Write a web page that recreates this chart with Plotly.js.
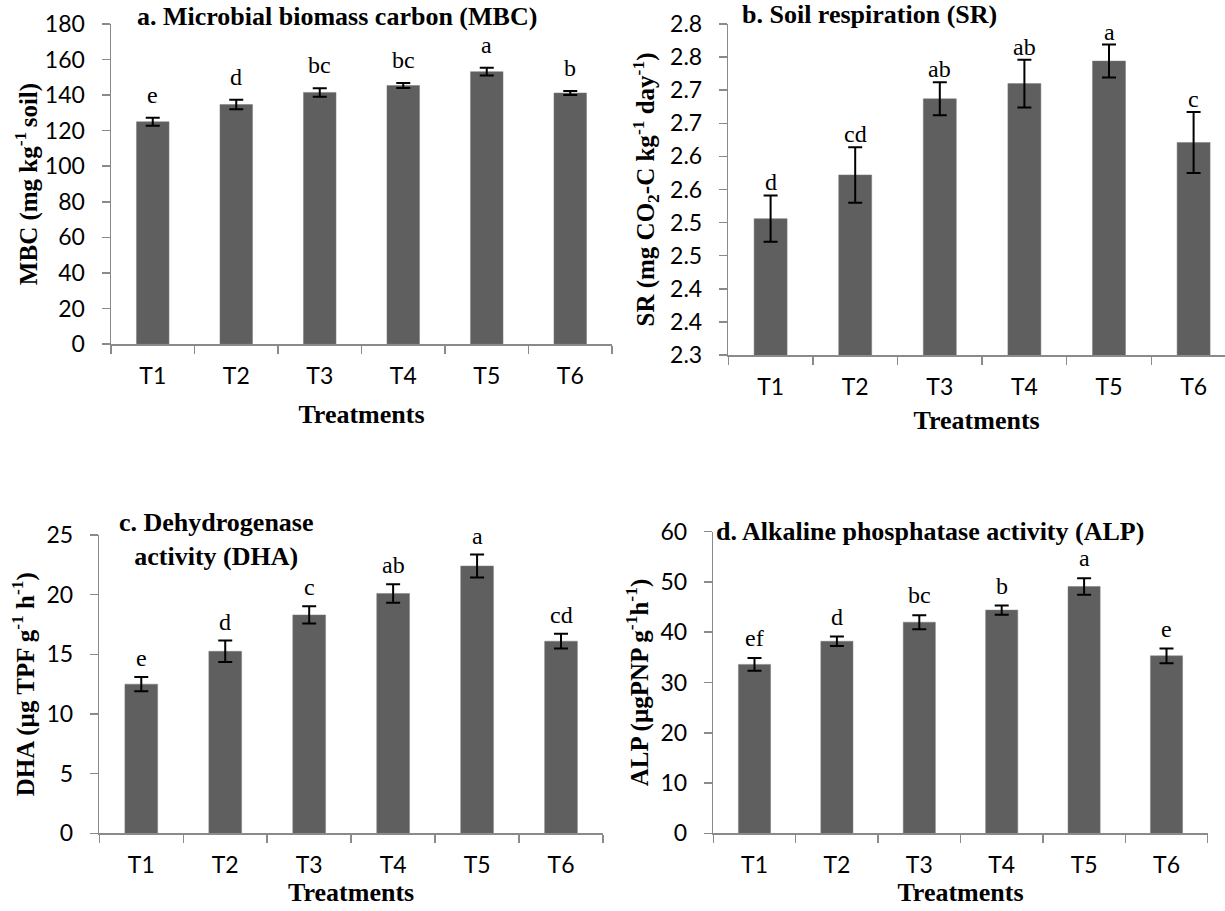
<!DOCTYPE html>
<html>
<head>
<meta charset="utf-8">
<script src="https://cdn.plot.ly/plotly-3.0.1.min.js"></script>
<style>html,body{margin:0;padding:0;background:#fff;}#chart{width:1225px;height:911px;}</style>
</head>
<body>
<div id="chart"></div>
<script>
// ---- data ----
const treatments = ['T1', 'T2', 'T3', 'T4', 'T5', 'T6'];

const mbcValues = [125.0, 134.7, 141.5, 145.4, 153.2, 141.2];
const mbcErrors = [2.2, 2.7, 2.4, 1.4, 2.2, 1.1];
const mbcLetters = ['e', 'd', 'bc', 'bc', 'a', 'b'];

const srValues = [2.506, 2.572, 2.687, 2.710, 2.744, 2.621];
const srErrors = [0.035, 0.042, 0.025, 0.036, 0.025, 0.046];
const srLetters = ['d', 'cd', 'ab', 'ab', 'a', 'c'];
const srTickValues = [2.30, 2.35, 2.40, 2.45, 2.50, 2.55, 2.60, 2.65, 2.70, 2.75, 2.80];
const srTickLabels = ['2.3', '2.4', '2.4', '2.5', '2.5', '2.6', '2.6', '2.7', '2.7', '2.8', '2.8'];

const dhaValues = [12.5, 15.25, 18.3, 20.1, 22.4, 16.1];
const dhaErrors = [0.6, 0.9, 0.72, 0.77, 0.96, 0.62];
const dhaLetters = ['e', 'd', 'c', 'ab', 'a', 'cd'];

const alpValues = [33.6, 38.2, 42.0, 44.4, 49.1, 35.3];
const alpErrors = [1.25, 0.95, 1.4, 0.9, 1.65, 1.45];
const alpLetters = ['ef', 'd', 'bc', 'b', 'a', 'e'];

const panelTitles = ['a. Microbial biomass carbon (MBC)', 'b. Soil respiration (SR)',
  'c. Dehydrogenase<br>activity (DHA)', 'd. Alkaline phosphatase activity (ALP)'];
const yTitles = ['MBC (mg kg<sup>-1 </sup>soil)', 'SR (mg CO<sub>2</sub>-C kg<sup>-1</sup> day<sup>-1</sup>)',
  'DHA (µg TPF g<sup>-1</sup> h<sup>-1</sup>)', 'ALP (µgPNP g<sup>-1</sup>h<sup>-1</sup>)'];
const xTitle = 'Treatments';

// ---- styles ----
const BAR = '#5f5f5f';
const AXIS = '#8a8a8a';
const SANS = 'Lato, "Open Sans", sans-serif';
const SERIF = '"Liberation Serif", "Times New Roman", serif';

function barTrace(vals, errs, xa, ya) {
  return {
    type: 'bar', x: treatments, y: vals, xaxis: xa, yaxis: ya,
    marker: {color: BAR, line: {color: '#7a7a7a', width: 0.5}},
    error_y: {type: 'data', array: errs, visible: true, color: '#000', thickness: 2, width: 7},
    hoverinfo: 'skip', showlegend: false
  };
}

const data = [
  barTrace(mbcValues, mbcErrors, 'x', 'y'),
  barTrace(srValues, srErrors, 'x2', 'y2'),
  barTrace(dhaValues, dhaErrors, 'x3', 'y3'),
  barTrace(alpValues, alpErrors, 'x4', 'y4')
];

function xAxis(domain, range, anchor, standoff) {
  return {
    domain: domain, range: range, anchor: anchor, type: 'category',
    showline: true, linecolor: AXIS, linewidth: 1.5,
    ticks: 'outside', tickson: 'boundaries', ticklen: 8, tickcolor: AXIS, tickwidth: 1.5,
    tickfont: {family: SANS, size: 23, color: '#000'}, ticklabelstandoff: 11,
    showgrid: false, zeroline: false, fixedrange: true,
    title: {text: xTitle, font: {family: SERIF, size: 26, color: '#000', weight: 'bold'}, standoff: standoff}
  };
}
function yAxis(domain, range, anchor, title, standoff, extra) {
  return Object.assign({
    domain: domain, range: range, anchor: anchor,
    showline: true, linecolor: AXIS, linewidth: 1.5,
    ticks: 'outside', ticklen: 8, tickcolor: AXIS, tickwidth: 1.5,
    tickfont: {family: SANS, size: 23, color: '#000'}, ticklabelstandoff: 12,
    showgrid: false, zeroline: false, fixedrange: true,
    title: {text: title, font: {family: SERIF, size: 25, color: '#000', weight: 'bold'}, standoff: standoff}
  }, extra || {});
}

const W = 1225, H = 911;
const layout = {
  width: W, height: H,
  margin: {l: 0, r: 0, t: 0, b: 0},
  paper_bgcolor: '#fff', plot_bgcolor: '#fff',
  bargap: 0.61,
  showlegend: false,
  xaxis: xAxis([111 / W, 612 / W], [-0.5, 5.5], 'y', 16),
  yaxis: yAxis([1 - 344 / H, 1 - 24 / H], [0, 180], 'x', yTitles[0], 0, {dtick: 20}),
  xaxis2: xAxis([728.3 / W, 1], [-0.5, (W - 728.3) / 84.6 - 0.5], 'y2', 11),
  yaxis2: yAxis([1 - 355 / H, 1 - 24 / H], [2.3, 2.8], 'x2', yTitles[1], 8,
    {tickmode: 'array', tickvals: srTickValues, ticktext: srTickLabels}),
  xaxis3: xAxis([99.3 / W, 603 / W], [-0.5, 5.5], 'y3', 4),
  yaxis3: yAxis([1 - 833.3 / H, 1 - 535 / H], [0, 25], 'x3', yTitles[2], 5, {dtick: 5}),
  xaxis4: xAxis([713.3 / W, 1207.7 / W], [-0.5, 5.5], 'y4', 4),
  yaxis4: yAxis([1 - 833.3 / H, 1 - 531.7 / H], [0, 60], 'x4', yTitles[3], 5, {dtick: 10}),
  annotations: []
};

function letterAnnotations(vals, errs, letters, xa, ya, shift) {
  return treatments.map((t, i) => ({
    x: t, y: vals[i] + errs[i], xref: xa, yref: ya, text: letters[i],
    showarrow: false, yanchor: 'bottom', xanchor: 'center', yshift: shift,
    font: {family: SERIF, size: 24, color: '#000'}
  }));
}
layout.annotations.push(...letterAnnotations(mbcValues, mbcErrors, mbcLetters, 'x', 'y', 8));
layout.annotations.push(...letterAnnotations(srValues, srErrors, srLetters, 'x2', 'y2', -2));
layout.annotations.push(...letterAnnotations(dhaValues, dhaErrors, dhaLetters, 'x3', 'y3', 4));
layout.annotations.push(...letterAnnotations(alpValues, alpErrors, alpLetters, 'x4', 'y4', 5));

const titlePos = [[337, 16.7], [869, 14], [217, 539], [930, 531.7]];
panelTitles.forEach((t, i) => {
  layout.annotations.push({
    text: t, xref: 'paper', yref: 'paper', x: titlePos[i][0] / W, y: 1 - titlePos[i][1] / H,
    xanchor: 'center', yanchor: 'middle', showarrow: false, align: 'center',
    font: {family: SERIF, size: 26, color: '#000', weight: 'bold'}
  });
});

Plotly.newPlot('chart', data, layout, {staticPlot: true, displayModeBar: false});
</script>
</body>
</html>
